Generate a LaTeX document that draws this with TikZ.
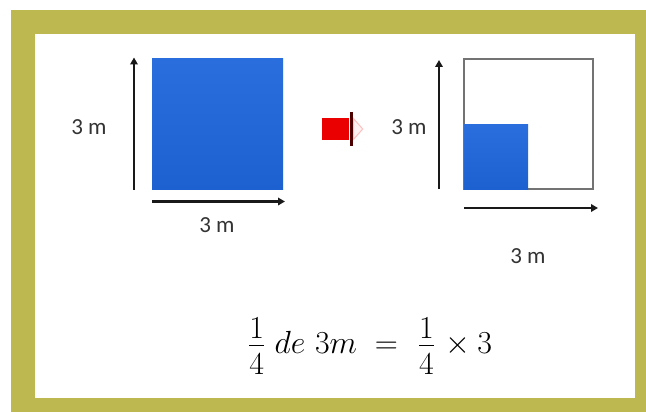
\documentclass[tikz,border=0pt]{standalone}
\usepackage{fontspec}
\setsansfont{Carlito}
\usepackage{tikz}
\usetikzlibrary{positioning, arrows.meta}
\definecolor{frameol}{HTML}{BDB84F}
\definecolor{sqblue}{HTML}{2A6EDD}
\definecolor{sqbluedk}{HTML}{1D60D0}
\newcommand{\quart}{\frac{\lower5.5pt\hbox{$1$}}{4}}
\tikzset{
  bluesq/.style={draw=none, top color=sqblue, bottom color=sqbluedk,
                 inner sep=0pt, outer sep=0pt},
  gridsq/.style={draw=black!55, line width=1.2pt, fill=white, inner sep=0pt, outer sep=0pt},
  lbl/.style={font=\sffamily\fontsize{23}{26}\selectfont, text=black!80, inner sep=0pt},
  axis/.style={-{Triangle[length=7pt, width=7.5pt]}, line width=2.2pt, black!90},
}

\begin{document}
\begin{tikzpicture}[x=1pt, y=-1pt]
  \useasboundingbox (0,0) rectangle (646,412);
  % frame
  \fill[frameol] (11,10) rectangle (646,412);
  \fill[white] (35,34) rectangle (635,398);

  % left: whole square
  \node[bluesq, minimum width=131pt, minimum height=131pt] (bigsq) at (217.5,124) {};
  \draw[axis] ([xshift=-18pt]bigsq.south west) -- ([xshift=-18pt, yshift=1pt]bigsq.north west);
  \draw[axis] ([yshift=-12pt]bigsq.south west) -- ([yshift=-12pt, xshift=2pt]bigsq.south east);
  \node[lbl] (sideA) at (89,127) {3 m};
  \node[lbl] (baseA) at (217,225) {3 m};

  % red arrow icon
  \node[fill=red!92!black, minimum width=27pt, minimum height=22pt, inner sep=0pt] (redbox) at (335,129) {};
  \draw[line width=3pt, black!70!red] ([xshift=2.5pt, yshift=6pt]redbox.north east) -- ([xshift=2.5pt, yshift=-6pt]redbox.south east);
  \draw[red!25, fill=red!5, line width=1pt] ([xshift=5pt, yshift=-1pt]redbox.north east) -- ([xshift=14pt]redbox.east) -- ([xshift=5pt, yshift=1pt]redbox.south east) -- cycle;

  % right: quarter of the square
  \node[gridsq, minimum width=129pt, minimum height=130pt] (plot) at (528.5,124) {};
  \node[bluesq, minimum width=64pt, minimum height=64pt, anchor=south west] (part) at (plot.south west) {};
  \draw[axis] ([xshift=-25pt]plot.south west) -- ([xshift=-25pt, yshift=-1pt]plot.north west);
  \draw[axis] ([yshift=-19pt]plot.south west) -- ([yshift=-19pt, xshift=5pt]plot.south east);
  \node[lbl] (sideB) at (409,127) {3 m};
  \node[lbl] (baseB) at (528,256) {3 m};

  % formula
  \node[font=\fontsize{24.88}{28}\selectfont, inner sep=0pt, anchor=base] (rule) at (370,353)
    {\scalebox{1.286}{$\displaystyle \quart\hspace{7pt} de\ 3m \;=\; \hspace{1.5pt}\quart\hspace{2.3pt}\times 3$}};
\end{tikzpicture}
\end{document}
